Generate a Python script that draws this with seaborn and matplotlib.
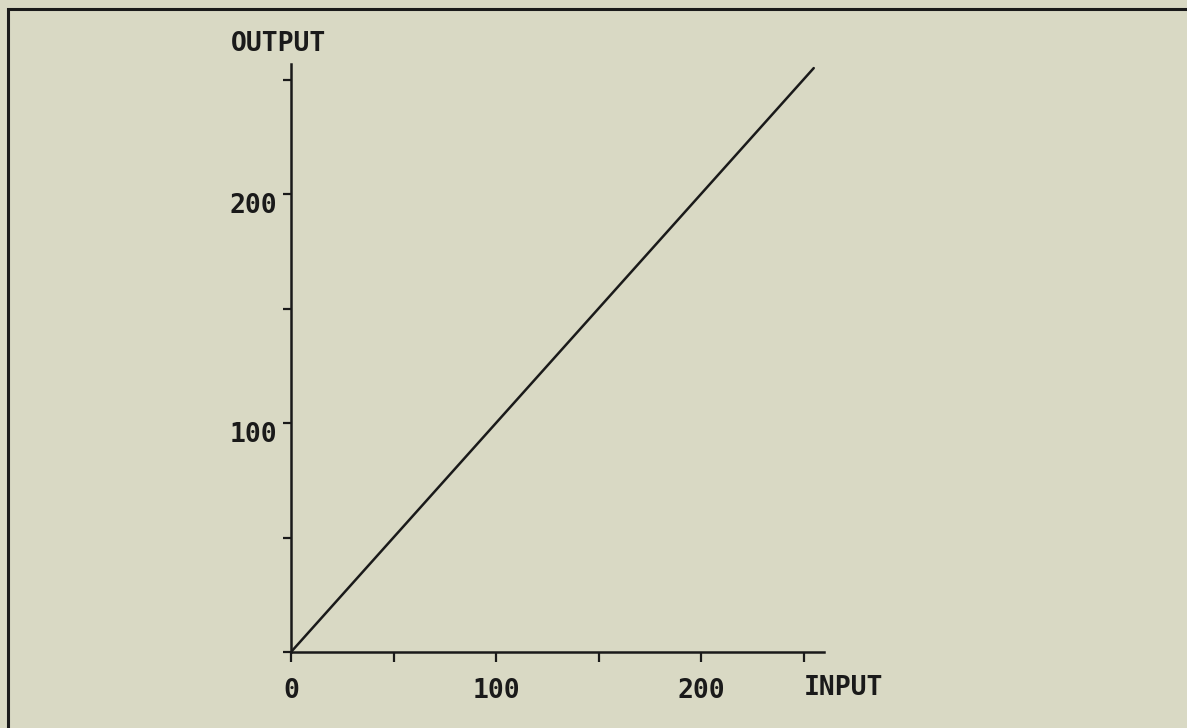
import matplotlib
matplotlib.use("Agg")
import matplotlib.pyplot as plt
import seaborn as sns
import pandas as pd
from matplotlib.patches import Rectangle
from matplotlib.transforms import ScaledTranslation

# Data: identity transfer curve (input -> output)
input_vals = [0, 255]
output_vals = [0, 255]
tick_values = [0, 50, 100, 150, 200, 250]
x_tick_labels = ["0", "", "100", "", "200", ""]
y_tick_labels = ["", "", "100", "", "200", ""]

BG = "#d9d9c4"
INK = "#1a1a1a"

sns.set_style("white")
plt.rcParams["font.family"] = ["DejaVu Sans Mono", "DejaVu Sans"]
plt.rcParams["font.weight"] = "bold"

fig = plt.figure(figsize=(11.87, 7.28), dpi=100)
fig.patch.set_facecolor(BG)

W, H = 1187, 728
# frame border (left/top visible, runs off right/bottom)
fig.patches.append(Rectangle((8 / W, -0.05), 1.2, 1 - 9.5 / H + 0.05,
                             transform=fig.transFigure, fill=False,
                             edgecolor=INK, linewidth=2.2))

ax = fig.add_axes([291 / W, (H - 652) / H, 533 / W, 588.5 / H])
ax.set_facecolor(BG)

df = pd.DataFrame({"INPUT": input_vals, "OUTPUT": output_vals})
sns.lineplot(data=df, x="INPUT", y="OUTPUT", ax=ax, color=INK, linewidth=1.8)

ax.set_xlim(0, 260)
ax.set_ylim(0, 257)
ax.set_xticks(tick_values)
ax.set_xticklabels(x_tick_labels)
ax.set_yticks(tick_values)
ax.set_yticklabels(y_tick_labels)
ax.set_xlabel("")
ax.set_ylabel("")

for s in ["top", "right"]:
    ax.spines[s].set_visible(False)
for s in ["left", "bottom"]:
    ax.spines[s].set_color(INK)
    ax.spines[s].set_linewidth(1.8)

ax.tick_params(axis="x", bottom=True, direction="out", length=7, width=1.6,
               color=INK, pad=12, labelsize=19, labelcolor=INK)
ax.tick_params(axis="y", left=True, direction="out", length=6, width=1.6,
               color=INK, pad=4, labelsize=19, labelcolor=INK)
shift = ScaledTranslation(0, -9 / 100, fig.dpi_scale_trans)
for lab in ax.get_yticklabels():
    lab.set_fontweight("bold")
    lab.set_transform(lab.get_transform() + shift)
for lab in ax.get_xticklabels():
    lab.set_fontweight("bold")

fig.text(279 / W, 1 - 44 / H, "OUTPUT", ha="center", va="center",
         fontsize=19, fontweight="bold", color=INK)
fig.text(843 / W, 1 - 688 / H, "INPUT", ha="center", va="center",
         fontsize=19, fontweight="bold", color=INK)

fig.savefig("out.png", dpi=100, facecolor=BG)
